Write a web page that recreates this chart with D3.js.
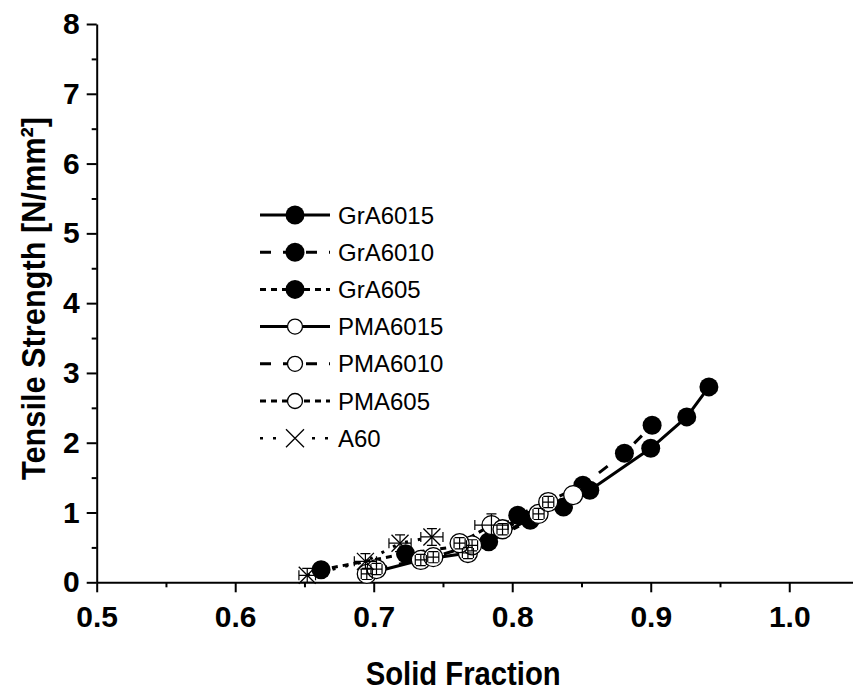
<!DOCTYPE html>
<html>
<head>
<meta charset="utf-8">
<script src="https://cdn.jsdelivr.net/npm/d3@7"></script>
<style>
  html, body { margin: 0; padding: 0; background: #fff; }
  svg { display: block; }
  text { font-family: "Liberation Sans", Arial, Helvetica, sans-serif; }
</style>
</head>
<body>
<svg id="chart" width="853" height="691"></svg>
<script>
// ---------------- data ----------------
const xTicks = [0.5, 0.6, 0.7, 0.8, 0.9, 1.0];
const xMinorTicks = [0.55, 0.65, 0.75, 0.85, 0.95, 1.05];
const yTicks = [0, 1, 2, 3, 4, 5, 6, 7, 8];
const yMinorTicks = [0.5, 1.5, 2.5, 3.5, 4.5, 5.5, 6.5, 7.5];

const seriesNames = ["GrA6015", "GrA6010", "GrA605", "PMA6015", "PMA6010", "PMA605", "A60"];

// [solid fraction, tensile strength]
const grA6015 = [[0.837, 1.08], [0.856, 1.32], [0.900, 1.92], [0.926, 2.37], [0.942, 2.80]];
const grA6010 = [[0.804, 0.96], [0.851, 1.39], [0.881, 1.85], [0.901, 2.25]];
const grA605  = [[0.662, 0.18], [0.723, 0.41], [0.783, 0.58], [0.813, 0.89]];
const pma6015 = [[0.695, 0.12], [0.734, 0.32], [0.768, 0.42], [0.819, 0.98]];
const pma6010 = [[0.702, 0.19], [0.743, 0.36], [0.771, 0.53], [0.826, 1.15]];
const pma605  = [[0.762, 0.56], [0.785, 0.82], [0.793, 0.76], [0.844, 1.25]];
const a60     = [[0.652, 0.10], [0.694, 0.30], [0.719, 0.56], [0.742, 0.65]];

// error bars [xErr, yErr]
const pma6015Err = [[0.004, 0.08], [0.004, 0.08], [0.004, 0.08], [0.004, 0.08]];
const pma6010Err = [[0.004, 0.08], [0.004, 0.08], [0.004, 0.08], [0.004, 0.08]];
const pma605Err  = [[0.004, 0.08], [0.012, 0.16], [0.004, 0.08], [0, 0]];
const a60Err     = [[0.006, 0.10], [0.008, 0.11], [0.008, 0.12], [0.008, 0.12]];

// ---------------- layout ----------------
const svg = d3.select("#chart");
const x = d3.scaleLinear().domain([0.5, 1.05]).range([96.7, 858.5]);
const y = d3.scaleLinear().domain([0, 8]).range([582.3, 24]);

const styles = {
  solid: null,
  long: "11,12",
  short: "6,5",
  dot: "3,10"
};

const series = [
  { name: seriesNames[0], data: grA6015, type: "filled", dash: styles.solid, err: null },
  { name: seriesNames[1], data: grA6010, type: "filled", dash: styles.long, err: null },
  { name: seriesNames[2], data: grA605,  type: "filled", dash: styles.short, err: null },
  { name: seriesNames[3], data: pma6015, type: "open",   dash: styles.solid, err: pma6015Err },
  { name: seriesNames[4], data: pma6010, type: "open",   dash: styles.long, err: pma6010Err },
  { name: seriesNames[5], data: pma605,  type: "open",   dash: styles.short, err: pma605Err },
  { name: seriesNames[6], data: a60,     type: "cross",  dash: styles.dot, err: a60Err }
];

// ---------------- axes ----------------
const axisFont = 30;
const gx = svg.append("g").attr("transform", `translate(0,${y(0)})`)
  .call(d3.axisBottom(x).tickValues(xTicks).tickFormat(d3.format(".1f"))
    .tickSize(10).tickSizeOuter(0).tickPadding(13.8));
const gxm = svg.append("g").attr("transform", `translate(0,${y(0)})`)
  .call(d3.axisBottom(x).tickValues(xMinorTicks).tickFormat("").tickSize(5).tickSizeOuter(0));
gxm.select(".domain").remove();

const gy = svg.append("g").attr("transform", `translate(${x(0.5)},0)`)
  .call(d3.axisLeft(y).tickValues(yTicks).tickFormat(d3.format("d"))
    .tickSize(10).tickSizeOuter(0).tickPadding(7));
const gym = svg.append("g").attr("transform", `translate(${x(0.5)},0)`)
  .call(d3.axisLeft(y).tickValues(yMinorTicks).tickFormat("").tickSize(5).tickSizeOuter(0));
gym.select(".domain").remove();

[gx, gy, gxm, gym].forEach(g => {
  g.selectAll(".domain").attr("stroke", "#000").attr("stroke-width", 2);
  g.selectAll(".tick line").attr("stroke", "#000").attr("stroke-width", 2);
  g.selectAll(".tick text").attr("fill", "#000")
    .style("font-family", '"Liberation Sans", Arial, sans-serif')
    .style("font-weight", "bold").style("font-size", axisFont + "px");
});

svg.append("text")
  .attr("x", 365.7).attr("y", 685)
  .attr("textLength", 195).attr("lengthAdjust", "spacingAndGlyphs")
  .style("font-weight", "bold").style("font-size", "33px")
  .text("Solid Fraction");

svg.append("text")
  .attr("transform", "translate(44.5,480) rotate(-90)")
  .attr("x", 0).attr("y", 0)
  .attr("textLength", 363).attr("lengthAdjust", "spacingAndGlyphs")
  .style("font-weight", "bold").style("font-size", "33px")
  .text("Tensile Strength [N/mm²]");

// ---------------- plot ----------------
const line = d3.line().x(d => x(d[0])).y(d => y(d[1]));
const plot = svg.append("g");

series.forEach(s => {
  plot.append("path")
    .attr("d", line(s.data))
    .attr("fill", "none").attr("stroke", "#000").attr("stroke-width", 3)
    .attr("stroke-dasharray", s.dash);
});

function drawMarker(g, type, cx, cy, r) {
  if (type === "filled") {
    g.append("circle").attr("cx", cx).attr("cy", cy).attr("r", r).attr("fill", "#000");
  } else if (type === "open") {
    g.append("circle").attr("cx", cx).attr("cy", cy).attr("r", r)
      .attr("fill", "#fff").attr("stroke", "#000").attr("stroke-width", 1.3);
  } else {
    g.append("path")
      .attr("d", `M${cx - r},${cy - r}L${cx + r},${cy + r}M${cx - r},${cy + r}L${cx + r},${cy - r}`)
      .attr("stroke", "#000").attr("stroke-width", 1.3).attr("fill", "none");
  }
}

series.forEach(s => {
  s.data.forEach(d => drawMarker(plot, s.type, x(d[0]), y(d[1]), s.type === "cross" ? 8.5 : 9.5));
});

// error bars (drawn on top)
const errG = svg.append("g").attr("stroke", "#000").attr("stroke-width", 1.2).attr("fill", "none");
const cap = 5;
series.forEach(s => {
  if (!s.err) return;
  s.data.forEach((d, i) => {
    const [ex, ey] = s.err[i];
    if (!ex && !ey) return;
    const cx = x(d[0]), cy = y(d[1]);
    const x0 = x(d[0] - ex), x1 = x(d[0] + ex);
    const y0 = y(d[1] + ey), y1 = y(d[1] - ey);
    errG.append("path").attr("d",
      `M${cx},${y0}L${cx},${y1}` +
      `M${cx - cap},${y0}L${cx + cap},${y0}` +
      `M${cx - cap},${y1}L${cx + cap},${y1}` +
      `M${x0},${cy}L${x1},${cy}` +
      `M${x0},${cy - cap}L${x0},${cy + cap}` +
      `M${x1},${cy - cap}L${x1},${cy + cap}`);
  });
});

// ---------------- legend ----------------
const legend = svg.append("g");
series.forEach((s, i) => {
  const ly = 215 + i * 37.2;
  legend.append("line")
    .attr("x1", 260).attr("x2", 330).attr("y1", ly).attr("y2", ly)
    .attr("stroke", "#000").attr("stroke-width", s.type === "cross" ? 2.5 : 3)
    .attr("stroke-dasharray", s.dash);
  if (s.type === "open") {
    legend.append("circle").attr("cx", 295).attr("cy", ly).attr("r", 7.5).attr("fill", "#fff");
  }
  if (s.type === "cross") {
    legend.append("rect").attr("x", 284).attr("y", ly - 10).attr("width", 22).attr("height", 20).attr("fill", "#fff");
  }
  drawMarker(legend, s.type, 295, ly, s.type === "filled" ? 9.5 : (s.type === "open" ? 7.5 : 9));
  legend.append("text")
    .attr("x", 338).attr("y", ly).attr("dy", "0.36em")
    .style("font-size", "24px").attr("fill", "#000")
    .text(s.name);
});
</script>
</body>
</html>
